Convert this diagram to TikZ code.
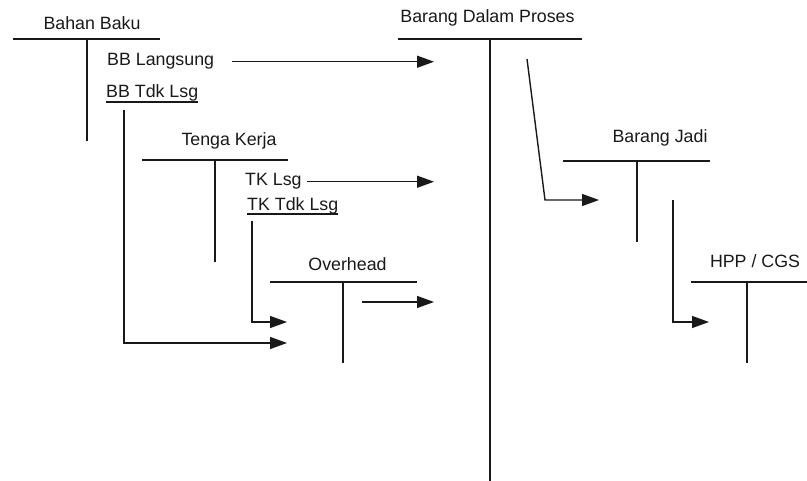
\documentclass[tikz,border=0pt]{standalone}
\usepackage{fontspec}
\setmainfont{Liberation Sans}
\usetikzlibrary{arrows.meta}

\begin{document}
\begin{tikzpicture}[x=1pt, y=-1pt,
  every node/.style={inner sep=0pt, font=\fontsize{17.8}{20}\selectfont, text=black!90},
  acct/.style={anchor=base},
  item/.style={anchor=base west},
  tline/.style={line width=1.4pt, black!90},
  flow/.style={line width=1.4pt, black!90, -{Triangle[length=17pt, width=12pt]}}]
\useasboundingbox (0,0) rectangle (807,481);

% account titles
\node[acct] (bb)  at (92,30)    {Bahan Baku};
\node[acct] (tk)  at (229,146)  {Tenga Kerja};
\node[acct] (ovh) at (347.5,271) {Overhead};
\node[acct] (bdp) at (487.5,23) {Barang Dalam Proses};
\node[acct] (bj)  at (660,143)  {Barang Jadi};
\node[acct] (hpp) at (755,268)  {HPP / CGS};

% T accounts
\draw[tline] (13,39) -- (160,39) (87,39) -- (87,141);
\draw[tline] (142,160) -- (288,160) (215,160) -- (215,262);
\draw[tline] (270,282) -- (417,282) (343,282) -- (343,363);
\draw[tline] (398,39) -- (582,39) (490,39) -- (490,481);
\draw[tline] (563,161) -- (710,161) (637,161) -- (637,242);
\draw[tline] (691,282) -- (807,282) (747,282) -- (747,363);

% items
\node[item] (bbl) at (107,66)  {BB Langsung};
\node[item] (bbt) at (106,98)  {BB Tdk Lsg};
\node[item] (tkl) at (245,186) {TK Lsg};
\node[item] (tkt) at (247,211) {TK Tdk Lsg};
\draw[tline] ([yshift=-4pt]bbt.base west) -- ([yshift=-4pt]bbt.base east);
\draw[tline] ([yshift=-3pt]tkt.base west) -- ([yshift=-3pt]tkt.base east);

% free ends
\coordinate (bbt-out) at (124,110);
\coordinate (tkt-out) at (252,221);
\coordinate (ovh-out) at (362,302);
\coordinate (bdp-out) at (527,59);
\coordinate (bj-out)  at (673,200);
\coordinate (bdp-in)  at (434,0);
\coordinate (ovh-in)  at (287,0);
\coordinate (bj-in)   at (599,200);
\coordinate (hpp-in)  at (709,322);

% flows
\draw[flow] ([xshift=18pt]bbl.east) -- (bbl.east -| bdp-in);
\draw[flow] ([xshift=5pt]tkl.east) -- (tkl.east -| bdp-in);
\draw[flow] (ovh-out) -- (ovh-out -| bdp-in);
\draw[flow] (bbt-out) |- (ovh-in |- 0,343);
\draw[flow] (tkt-out) |- (ovh-in |- 0,322);
\draw[flow] (bdp-out) -- (545,200) -- (bj-in);
\draw[flow] (bj-out) |- (hpp-in);
\end{tikzpicture}
\end{document}
